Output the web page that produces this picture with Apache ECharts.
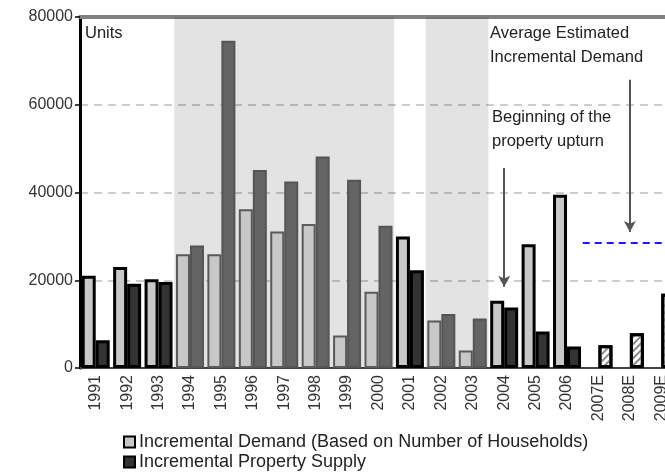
<!DOCTYPE html>
<html>
<head>
<meta charset="utf-8">
<script src="https://cdn.jsdelivr.net/npm/echarts@6/dist/echarts.min.js"></script>
<style>
  html, body { margin: 0; padding: 0; background: #fff; }
  #chart { width: 665px; height: 473px; }
</style>
</head>
<body>
<div id="chart"></div>
<script>
  // years on the category axis
  var years = ['1991', '1992', '1993', '1994', '1995', '1996', '1997', '1998', '1999', '2000',
    '2001', '2002', '2003', '2004', '2005', '2006', '2007E', '2008E', '2009E'];
  // incremental demand (households)
  var demand = [21000, 23000, 20200, 25900, 25900, 36200, 31100, 32800, 7400, 17400,
    30000, 10800, 4000, 15300, 28200, 39500, null, null, null];
  // incremental property supply
  var supply = [6300, 19200, 19600, 27900, 74600, 45100, 42500, 48200, 42900, 32400,
    22300, 12300, 11300, 13800, 8300, 4900, 5200, 7900, 16900];
  var yTicks = [0, 20000, 40000, 60000, 80000];
  var avgDemand = 28500;
  // shaded periods (first year, last year)
  var shadedPeriods = [['1994', '2000'], ['2002', '2003']];
  var estimateYears = ['2007E', '2008E', '2009E'];
  var demandName = 'Incremental Demand (Based on Number of Households)';
  var supplyName = 'Incremental Property Supply';

  function isShaded(y) {
    var i = years.indexOf(y);
    return shadedPeriods.some(function (p) {
      return i >= years.indexOf(p[0]) && i <= years.indexOf(p[1]);
    });
  }

  var demandData = demand.map(function (v, i) {
    var sh = isShaded(years[i]);
    return {
      value: v,
      itemStyle: sh
        ? {color: '#c8c8c8', borderColor: '#5a5a5a', borderWidth: 2}
        : {color: '#c8c8c8', borderColor: '#000', borderWidth: 3}
    };
  });

  var supplyData = supply.map(function (v, i) {
    var y = years[i];
    var st;
    if (estimateYears.indexOf(y) >= 0) {
      st = {
        color: '#fff', borderColor: '#000', borderWidth: 3,
        decal: {symbol: 'rect', symbolSize: 1, dashArrayX: [1, 0], dashArrayY: [2, 3],
          rotation: -Math.PI / 4, color: '#8a8a8a'}
      };
    } else if (isShaded(y)) {
      st = {color: '#646464', borderColor: '#555', borderWidth: 2};
    } else {
      st = {color: '#333', borderColor: '#000', borderWidth: 3};
    }
    return {value: v, itemStyle: st};
  });

  var areas = shadedPeriods.map(function (p) {
    return [{xAxis: years.indexOf(p[0]) - 0.5}, {xAxis: years.indexOf(p[1]) + 0.5}];
  });

  var chart = echarts.init(document.getElementById('chart'));
  var txt = {fontFamily: 'Liberation Sans', fontSize: 16.5, fill: '#222'};

  function legendRow(name, top) {
    return {
      data: [name],
      left: 123,
      top: top,
      padding: 0,
      itemWidth: 11,
      itemHeight: 11,
      icon: 'rect',
      textStyle: {fontSize: 18, color: '#222', padding: [0, 0, 0, -1]}
    };
  }

  chart.setOption({
    animation: false,
    textStyle: {fontFamily: 'Liberation Sans'},
    grid: {left: 80, top: 17, width: 597, height: 351, outerBoundsMode: 'none', containLabel: false},
    legend: [legendRow(demandName, 433), legendRow(supplyName, 453)],
    xAxis: [{
      type: 'category',
      data: years,
      axisLine: {lineStyle: {color: '#444', width: 2}},
      axisTick: {show: false},
      axisLabel: {rotate: 90, fontSize: 16, color: '#333', margin: 7, interval: 0}
    }, {
      type: 'value',
      position: 'top',
      min: -0.5,
      max: years.length - 0.5,
      axisLine: {show: true, onZero: false, lineStyle: {color: '#808080', width: 4}},
      axisTick: {show: false},
      axisLabel: {show: false},
      splitLine: {show: false}
    }],
    yAxis: {
      type: 'value',
      min: yTicks[0],
      max: yTicks[yTicks.length - 1],
      interval: yTicks[1] - yTicks[0],
      axisLine: {show: true, onZero: false, lineStyle: {color: '#000', width: 3}},
      axisTick: {show: true, length: 5, lineStyle: {color: '#000', width: 1.5}},
      axisLabel: {fontSize: 16, color: '#333', margin: 7, formatter: function (v) { return String(v); }},
      splitLine: {lineStyle: {color: '#bdbdbd', width: 1.5, type: [8, 6]}}
    },
    series: [{
      name: demandName,
      type: 'bar',
      barWidth: 14,
      barGap: '0%',
      itemStyle: {color: '#c8c8c8', borderColor: '#000', borderWidth: 2.5},
      data: demandData
    }, {
      name: supplyName,
      type: 'bar',
      barWidth: 14,
      barGap: '0%',
      itemStyle: {color: '#333', borderColor: '#000', borderWidth: 2.5},
      data: supplyData
    }, {
      name: 'avg',
      type: 'line',
      xAxisIndex: 1,
      z: 1,
      symbol: 'none',
      lineStyle: {color: '#1a1aff', width: 2, type: [7, 5]},
      data: [[years.indexOf('2007E') - 0.5, avgDemand], [years.length - 0.5, avgDemand]],
      markArea: {
        silent: true,
        itemStyle: {color: 'rgba(0,0,0,0.11)'},
        data: areas
      },
      markLine: {
        silent: true,
        symbol: ['none', 'arrow'],
        symbolSize: [9, 11],
        label: {show: false},
        lineStyle: {color: '#555', width: 2, type: 'solid'},
        data: [
          [{coord: [years.indexOf('2004'), 45600]}, {coord: [years.indexOf('2004'), 18500]}],
          [{coord: [years.indexOf('2008E'), 65700]}, {coord: [years.indexOf('2008E'), 31000]}]
        ]
      }
    }],
    graphic: [
      {type: 'text', left: 85, top: 25, style: Object.assign({text: 'Units'}, txt)},
      {type: 'text', left: 490, top: 25, style: Object.assign({text: 'Average Estimated'}, txt)},
      {type: 'text', left: 490, top: 49, style: Object.assign({text: 'Incremental Demand'}, txt)},
      {type: 'text', left: 492, top: 109, style: Object.assign({text: 'Beginning of the'}, txt)},
      {type: 'text', left: 492, top: 133, style: Object.assign({text: 'property upturn'}, txt)}
    ]
  });
</script>
</body>
</html>
